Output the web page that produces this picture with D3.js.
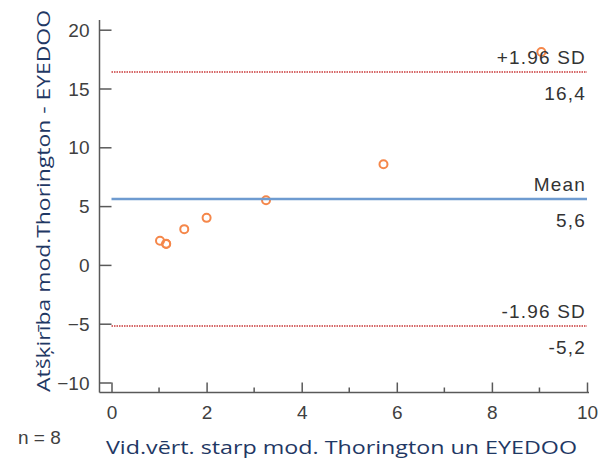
<!DOCTYPE html>
<html>
<head>
<meta charset="utf-8">
<script src="https://cdn.jsdelivr.net/npm/d3@7"></script>
<style>
  body { margin: 0; background: #fff; }
  .tick text { font-family: "Liberation Sans Narrow", "Liberation Sans", Arial, sans-serif; font-size: 19px; fill: #404040; }
  .lim { font-family: "Liberation Sans", Arial, sans-serif; font-size: 19px; fill: #333; letter-spacing: 1.2px; }
  .ttl { font-family: "Open Sans", "Noto Sans", sans-serif; font-size: 18px; fill: #1f3864; }
</style>
</head>
<body>
<svg id="chart" width="600" height="462"></svg>
<script>
// mean of the two methods vs. difference
let meanX = [1.02, 1.15, 1.15, 1.53, 2.0, 3.25, 5.72, 9.04];
let diffY = [2.05, 1.77, 1.8, 3.04, 4.0, 5.5, 8.56, 18.1];

let limNames  = ["+1.96 SD", "Mean", "-1.96 SD"];
let limValues = [16.4, 5.6, -5.2];
let limText   = ["16,4", "5,6", "-5,2"];

let xTicks = [0, 2, 4, 6, 8, 10];
let xMinor = [1, 3, 5, 7, 9];
let yTicks = [-10, -5, 0, 5, 10, 15, 20];

let svg = d3.select("#chart");

let x = d3.scaleLinear().domain([0, 10]).range([111.5, 587]);
let y = d3.scaleLinear().domain([-10, 20]).range([382.5, 29.7]);

let axisCol = "#595959";

// axis lines
svg.append("line").attr("x1", 99.5).attr("x2", 99.5).attr("y1", 20).attr("y2", 392.5)
  .attr("stroke", axisCol).attr("stroke-width", 1.5);
svg.append("line").attr("x1", 99.5).attr("x2", 589).attr("y1", 392.5).attr("y2", 392.5)
  .attr("stroke", axisCol).attr("stroke-width", 1.5);

// y ticks (inward)
let yAxis = svg.append("g").attr("transform", "translate(99.5,0)")
  .call(d3.axisRight(y).tickValues(yTicks).tickSize(12).tickFormat(d3.format("d")));
yAxis.select(".domain").remove();
yAxis.selectAll(".tick line").attr("stroke", axisCol).attr("stroke-width", 1.5);
yAxis.selectAll(".tick text").attr("x", -10).attr("text-anchor", "end").attr("dy", "0.35em");

// x ticks (inward, up)
let xAxis = svg.append("g").attr("transform", "translate(0,392.5)")
  .call(d3.axisTop(x).tickValues(xTicks).tickSize(10).tickFormat(d3.format("d")));
xAxis.select(".domain").remove();
xAxis.selectAll(".tick line").attr("stroke", axisCol).attr("stroke-width", 1.5);
xAxis.selectAll(".tick text").attr("y", 26).attr("dy", 0);

svg.append("g").selectAll("line").data(xMinor).join("line")
  .attr("x1", d => x(d)).attr("x2", d => x(d))
  .attr("y1", 392.5).attr("y2", 387.5)
  .attr("stroke", axisCol).attr("stroke-width", 1.5);

// points
svg.append("g").selectAll("circle").data(meanX).join("circle")
  .attr("cx", d => x(d)).attr("cy", (d, i) => y(diffY[i]))
  .attr("r", 4).attr("fill", "none")
  .attr("stroke", "#f5874a").attr("stroke-width", 2);

// limit lines
svg.append("g").selectAll("line").data(limValues).join("line")
  .attr("x1", x(0)).attr("x2", x(10))
  .attr("y1", d => y(d)).attr("y2", d => y(d))
  .attr("stroke", (d, i) => i == 1 ? "#6e9bd0" : "#d66a6a")
  .attr("stroke-width", (d, i) => i == 1 ? 2.5 : 2)
  .attr("stroke-dasharray", (d, i) => i == 1 ? null : "1.5,1");

svg.append("g").selectAll("text").data(limNames).join("text")
  .attr("class", "lim").attr("text-anchor", "end")
  .attr("x", 586).attr("y", (d, i) => y(limValues[i]) - 8)
  .text(d => d);

svg.append("g").selectAll("text").data(limText).join("text")
  .attr("class", "lim").attr("text-anchor", "end")
  .attr("x", 586).attr("y", (d, i) => y(limValues[i]) + 28)
  .text(d => d);

// titles
svg.append("text").attr("class", "ttl")
  .attr("x", 106).attr("y", 454)
  .attr("textLength", 471).attr("lengthAdjust", "spacingAndGlyphs")
  .text("Vid.vērt. starp mod. Thorington un EYEDOO");

svg.append("text").attr("class", "ttl")
  .attr("transform", "translate(50,392) rotate(-90)")
  .attr("textLength", 382).attr("lengthAdjust", "spacingAndGlyphs")
  .text("Atšķirība mod.Thorington - EYEDOO");

svg.append("text").attr("class", "lim")
  .attr("x", 18).attr("y", 444)
  .style("font-size", "19px").style("fill", "#404040").style("letter-spacing", "0px")
  .text("n = 8");
</script>
</body>
</html>
